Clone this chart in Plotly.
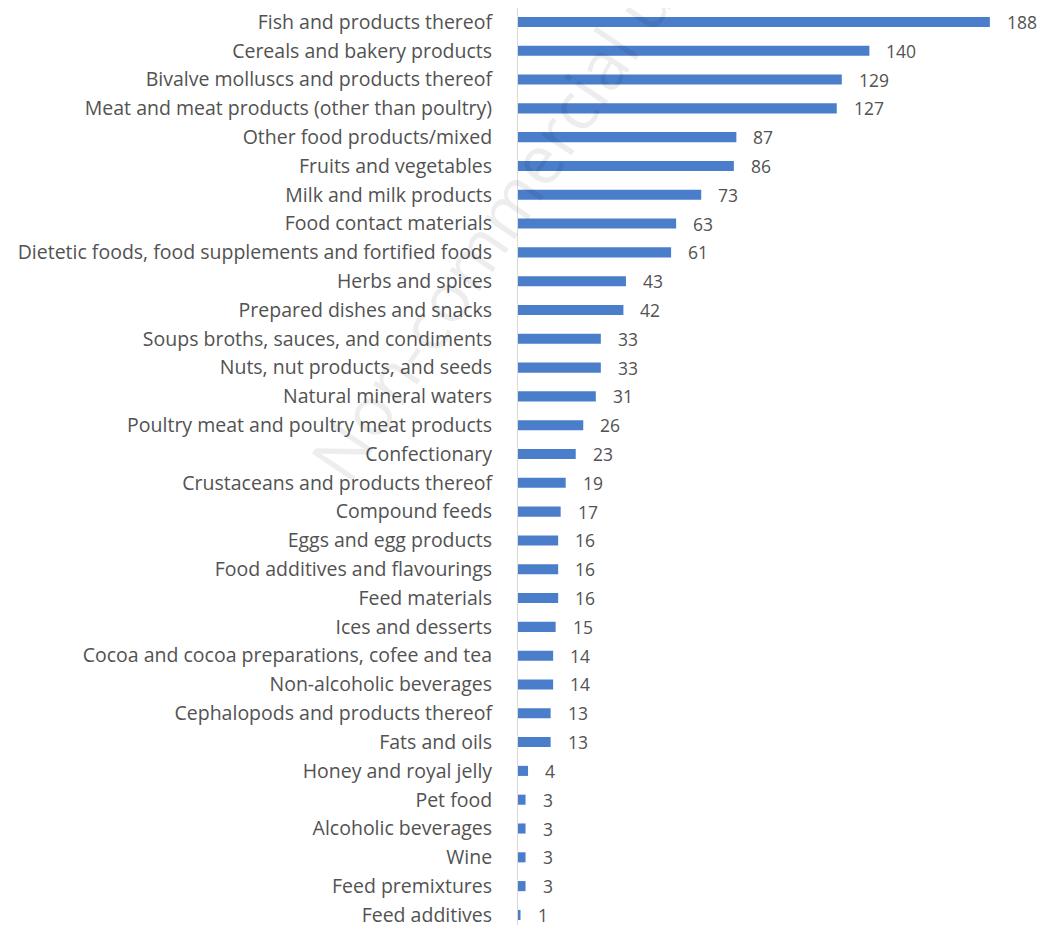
import plotly.graph_objects as go

categories = [
    "Fish and products thereof",
    "Cereals and bakery products",
    "Bivalve molluscs and products thereof",
    "Meat and meat products (other than poultry)",
    "Other food products/mixed",
    "Fruits and vegetables",
    "Milk and milk products",
    "Food contact materials",
    "Dietetic foods, food supplements and fortified foods",
    "Herbs and spices",
    "Prepared dishes and snacks",
    "Soups broths, sauces, and condiments",
    "Nuts, nut products, and seeds",
    "Natural mineral waters",
    "Poultry meat and poultry meat products",
    "Confectionary",
    "Crustaceans and products thereof",
    "Compound feeds",
    "Eggs and egg products",
    "Food additives and flavourings",
    "Feed materials",
    "Ices and desserts",
    "Cocoa and cocoa preparations, cofee and tea",
    "Non-alcoholic beverages",
    "Cephalopods and products thereof",
    "Fats and oils",
    "Honey and royal jelly",
    "Pet food",
    "Alcoholic beverages",
    "Wine",
    "Feed premixtures",
    "Feed additives",
]
values = [188, 140, 129, 127, 87, 86, 73, 63, 61, 43, 42, 33, 33, 31, 26, 23,
          19, 17, 16, 16, 16, 15, 14, 14, 13, 13, 4, 3, 3, 3, 3, 1]

FONT = "Open Sans"
TEXT_COLOR = "#525252"
BAR_COLOR = "#4A7ECB"

fig = go.Figure()
fig.add_trace(go.Bar(
    x=values, y=categories, orientation="h",
    marker=dict(color=BAR_COLOR, line=dict(width=0)),
    width=0.35, hoverinfo="x+y",
))

annotations = [
    dict(x=v, y=c, xref="x", yref="y", text=str(v), showarrow=False,
         xanchor="left", yanchor="middle", xshift=15,
         font=dict(family=FONT, size=17.5, color=TEXT_COLOR))
    for c, v in zip(categories, values)
]
annotations.append(dict(
    x=-0.016, y=0.791, xref="paper", yref="paper", text="Non-commercial use",
    showarrow=False, textangle=-56, xanchor="center", yanchor="middle",
    font=dict(family=FONT, size=68, color="rgba(0,0,0,0.07)"),
))

fig.update_layout(
    width=1038, height=920,
    margin=dict(l=510, r=26, t=0, b=0, pad=0),
    paper_bgcolor="white", plot_bgcolor="white",
    showlegend=False,
    font=dict(family=FONT, size=19, color=TEXT_COLOR),
    annotations=annotations,
    xaxis=dict(range=[0, 200], showgrid=False, zeroline=False,
               showticklabels=False, ticks="", showline=False),
    yaxis=dict(range=[31.35, -0.484], categoryorder="array",
               categoryarray=categories, showgrid=False, zeroline=False,
               showline=True, linecolor="#d9d9d9", linewidth=1,
               ticks="", ticklabelstandoff=21,
               tickfont=dict(family=FONT, size=19.5, color=TEXT_COLOR)),
)

fig.write_html("out.html")
